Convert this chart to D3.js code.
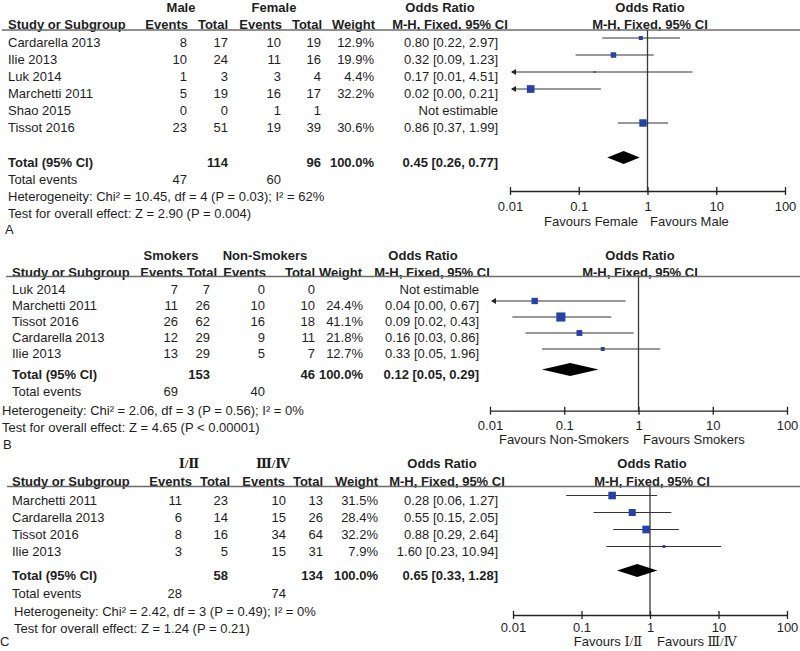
<!DOCTYPE html>
<html>
<head>
<meta charset="utf-8">
<script src="https://cdn.jsdelivr.net/npm/d3@7"></script>
<style>
body { margin: 0; background: #fff; }
svg text { font-family: Arial, "Liberation Sans", Helvetica, sans-serif; font-size: 13px; fill: #1e1e1e; }
svg text.b { font-weight: bold; }
svg tspan.roman { font-family: "Liberation Serif", "DejaVu Serif", serif; }
</style>
</head>
<body>
<svg id="chart" width="800" height="651"></svg>
<script>
// ticks of the odds ratio axis
const tickValues = [0.01, 0.1, 1, 10, 100];
const tickLabels = ["0.01", "0.1", "1", "10", "100"];
const headNames = ["Events", "Total", "Events", "Total", "Weight"];

// A - Male vs Female
const groupsA = ["Male", "Female"];
const favoursA = ["Favours Female", "Favours Male"];
const studiesA = ["Cardarella 2013", "Ilie 2013", "Luk 2014", "Marchetti 2011", "Shao 2015", "Tissot 2016"];
const eventsA1 = [8, 10, 1, 5, 0, 23];
const totalA1 = [17, 24, 3, 19, 0, 51];
const eventsA2 = [10, 11, 3, 16, 1, 19];
const totalA2 = [19, 16, 4, 17, 1, 39];
const weightA = [12.9, 19.9, 4.4, 32.2, null, 30.6];
const orA = [0.80, 0.32, 0.17, 0.02, null, 0.86];
const lowA = [0.22, 0.09, 0.01, 0.00, null, 0.37];
const highA = [2.97, 1.23, 4.51, 0.21, null, 1.99];
const sumEventsA = [47, 60];
const sumTotalA = [114, 96];
const pooledA = [0.45, 0.26, 0.77];
const statsA = ["Heterogeneity: Chi² = 10.45, df = 4 (P = 0.03); I² = 62%", "Test for overall effect: Z = 2.90 (P = 0.004)"];

// B - Smokers vs Non-Smokers
const groupsB = ["Smokers", "Non-Smokers"];
const favoursB = ["Favours Non-Smokers", "Favours Smokers"];
const studiesB = ["Luk 2014", "Marchetti 2011", "Tissot 2016", "Cardarella 2013", "Ilie 2013"];
const eventsB1 = [7, 11, 26, 12, 13];
const totalB1 = [7, 26, 62, 29, 29];
const eventsB2 = [0, 10, 16, 9, 5];
const totalB2 = [0, 10, 18, 11, 7];
const weightB = [null, 24.4, 41.1, 21.8, 12.7];
const orB = [null, 0.04, 0.09, 0.16, 0.33];
const lowB = [null, 0.00, 0.02, 0.03, 0.05];
const highB = [null, 0.67, 0.43, 0.86, 1.96];
const sumEventsB = [69, 40];
const sumTotalB = [153, 46];
const pooledB = [0.12, 0.05, 0.29];
const statsB = ["Heterogeneity: Chi² = 2.06, df = 3 (P = 0.56); I² = 0%", "Test for overall effect: Z = 4.65 (P < 0.00001)"];

// C - stage I/II vs III/IV
const groupsC = ["Ⅰ/Ⅱ", "Ⅲ/Ⅳ"];
const favoursC = ["Favours Ⅰ/Ⅱ", "Favours Ⅲ/Ⅳ"];
const studiesC = ["Marchetti 2011", "Cardarella 2013", "Tissot 2016", "Ilie 2013"];
const eventsC1 = [11, 6, 8, 3];
const totalC1 = [23, 14, 16, 5];
const eventsC2 = [10, 15, 34, 15];
const totalC2 = [13, 26, 64, 31];
const weightC = [31.5, 28.4, 32.2, 7.9];
const orC = [0.28, 0.55, 0.88, 1.60];
const lowC = [0.06, 0.15, 0.29, 0.23];
const highC = [1.27, 2.05, 2.64, 10.94];
const sumEventsC = [28, 74];
const sumTotalC = [58, 134];
const pooledC = [0.65, 0.33, 1.28];
const statsC = ["Heterogeneity: Chi² = 2.42, df = 3 (P = 0.49); I² = 0%", "Test for overall effect: Z = 1.24 (P = 0.21)"];

const panels = [
    {
        letter: "A", groups: groupsA, favours: favoursA, studies: studiesA,
        e1: eventsA1, t1: totalA1, e2: eventsA2, t2: totalA2, w: weightA, or: orA, lo: lowA, hi: highA,
        sumE: sumEventsA, sumT: sumTotalA, pooled: pooledA, stats: statsA,
        groupY: 7, headY: 24, lineY: 30, lineX: 2, rowY: 42.5, rowStep: 17,
        totalY: 162, eventsY: 179, hetY: 196.5, testY: 213.5, letterY: 229, letterX: 5,
        studyX: 8, statX: 8, cols: [187, 228, 281, 321, 374], headCols: [188, 228, 282, 322, 375],
        orX: 498, orHead: [440, 450], groupX: [181, 274],
        plotX: [510, 785], axisY: 191, tickY: 15, favY: 221, favX: [638, 650], plotHead: 650
    },
    {
        letter: "B", groups: groupsB, favours: favoursB, studies: studiesB,
        e1: eventsB1, t1: totalB1, e2: eventsB2, t2: totalB2, w: weightB, or: orB, lo: lowB, hi: highB,
        sumE: sumEventsB, sumT: sumTotalB, pooled: pooledB, stats: statsB,
        groupY: 255.7, headY: 272, lineY: 276.5, lineX: 6, rowY: 289.5, rowStep: 16,
        totalY: 374, eventsY: 391.5, hetY: 410, testY: 427.5, letterY: 444, letterX: 3,
        studyX: 12, statX: 2, cols: [178, 210, 265, 315, 363], headCols: [183, 217, 266, 315, 362],
        orX: 479, orHead: [423, 432], groupX: [171, 265],
        plotX: [490, 787], axisY: 410.7, tickY: 14.5, favY: 439.5, favX: [629, 643], plotHead: 640
    },
    {
        letter: "C", groups: groupsC, favours: favoursC, studies: studiesC,
        e1: eventsC1, t1: totalC1, e2: eventsC2, t2: totalC2, w: weightC, or: orC, lo: lowC, hi: highC,
        sumE: sumEventsC, sumT: sumTotalC, pooled: pooledC, stats: statsC,
        groupY: 463, headY: 481.5, lineY: 486.5, lineX: 7, rowY: 500, rowStep: 17,
        totalY: 575, eventsY: 593, hetY: 611, testY: 628, letterY: 641, letterX: 0,
        studyX: 12, statX: 14, cols: [182, 228, 286, 323, 378], headCols: [192, 230, 285, 323, 378],
        orX: 498, orHead: [442, 447], groupX: [189, 273],
        plotX: [513, 787], axisY: 615, tickY: 12.3, favY: 641.5, favX: [642, 657], plotHead: 652
    }
];

const svg = d3.select("#chart");
svg.append("rect").attr("width", 800).attr("height", 651).attr("fill", "#fff");

// square side from study weight
const sizeScale = d3.scalePow().exponent(0.7).domain([0, 100]).range([0, 17]);
const markerColor = "#2742a6";

const fmtOR = (o, l, h) => `${o.toFixed(2)} [${l.toFixed(2)}, ${h.toFixed(2)}]`;

// text with roman numerals put in a serif font
const addText = (g, x, y, s, anchor, bold) => {
    const t = g.append("text")
        .attr("x", x)
        .attr("y", y)
        .attr("dy", "0.35em")
        .attr("text-anchor", anchor || "start");
    if (bold) t.classed("b", true);
    String(s).split(/([\u2160-\u216F]+(?:\/[\u2160-\u216F]+)*)/).forEach(part => {
        if (!part) return;
        const ts = t.append("tspan").text(part);
        if (/[\u2160-\u216F]/.test(part)) ts.classed("roman", true);
    });
    return t;
}

const drawPanel = (p) => {
    const g = svg.append("g");
    const xMin = tickValues[0], xMax = tickValues[tickValues.length - 1];
    const x = d3.scaleLog().domain([xMin, xMax]).range(p.plotX);

    // headers
    addText(g, p.groupX[0], p.groupY, p.groups[0], "middle", true);
    addText(g, p.groupX[1], p.groupY, p.groups[1], "middle", true);
    addText(g, p.orHead[0], p.groupY, "Odds Ratio", "middle", true);
    addText(g, p.plotHead, p.groupY, "Odds Ratio", "middle", true);
    addText(g, p.studyX, p.headY, "Study or Subgroup", "start", true);
    headNames.forEach((h, i) => addText(g, p.headCols[i], p.headY, h, "end", true));
    addText(g, p.orHead[1], p.headY, "M-H, Fixed, 95% CI", "middle", true);
    addText(g, p.plotHead, p.headY, "M-H, Fixed, 95% CI", "middle", true);

    g.append("line")
        .attr("x1", p.lineX).attr("x2", 800)
        .attr("y1", p.lineY).attr("y2", p.lineY)
        .attr("stroke", "#6b6b6b")
        .attr("stroke-width", 1.6);

    // line of no effect
    g.append("line")
        .attr("x1", x(1)).attr("x2", x(1))
        .attr("y1", p.lineY).attr("y2", p.axisY)
        .attr("stroke", "#3a3a3a")
        .attr("stroke-width", 1.3);

    // study rows
    p.studies.forEach((s, i) => {
        const y = p.rowY + i * p.rowStep;
        addText(g, p.studyX, y, s);
        [p.e1[i], p.t1[i], p.e2[i], p.t2[i]].forEach((v, j) => addText(g, p.cols[j], y, v, "end"));
        if (p.w[i] != null) addText(g, p.cols[4], y, p.w[i].toFixed(1) + "%", "end");
        if (p.or[i] == null) {
            addText(g, p.orX, y, "Not estimable", "end");
            return;
        }
        addText(g, p.orX, y, fmtOR(p.or[i], p.lo[i], p.hi[i]), "end");

        const my = y - 4.5;
        const clipLo = p.lo[i] <= xMin;
        const clipHi = p.hi[i] >= xMax;
        const xa = clipLo ? x(xMin) + 2 : x(p.lo[i]);
        const xb = clipHi ? x(xMax) - 2 : x(p.hi[i]);
        g.append("line")
            .attr("x1", xa).attr("x2", xb)
            .attr("y1", my).attr("y2", my)
            .attr("stroke", "#333")
            .attr("stroke-width", 1.1);
        if (clipLo) {
            const tip = x(xMin) + 1;
            g.append("path")
                .attr("d", `M${tip},${my}L${tip + 5},${my - 3}L${tip + 5},${my + 3}Z`)
                .attr("fill", "#222");
        }
        if (clipHi) {
            const tip = x(xMax) - 1;
            g.append("path")
                .attr("d", `M${tip},${my}L${tip - 5},${my - 3}L${tip - 5},${my + 3}Z`)
                .attr("fill", "#222");
        }
        const sz = sizeScale(p.w[i]);
        g.append("rect")
            .attr("x", x(p.or[i]) - sz / 2)
            .attr("y", my - sz / 2)
            .attr("width", sz)
            .attr("height", sz)
            .attr("fill", markerColor);
    });

    // total
    addText(g, p.studyX, p.totalY, "Total (95% CI)", "start", true);
    addText(g, p.cols[1], p.totalY, p.sumT[0], "end", true);
    addText(g, p.cols[3], p.totalY, p.sumT[1], "end", true);
    addText(g, p.cols[4], p.totalY, "100.0%", "end", true);
    addText(g, p.orX, p.totalY, fmtOR(p.pooled[0], p.pooled[1], p.pooled[2]), "end", true);
    const dy = p.totalY - 4.5;
    g.append("path")
        .attr("d", `M${x(p.pooled[1])},${dy}L${x(p.pooled[0])},${dy - 6.5}L${x(p.pooled[2])},${dy}L${x(p.pooled[0])},${dy + 6.5}Z`)
        .attr("fill", "#000");

    addText(g, p.studyX, p.eventsY, "Total events");
    addText(g, p.cols[0], p.eventsY, p.sumE[0], "end");
    addText(g, p.cols[2], p.eventsY, p.sumE[1], "end");
    addText(g, p.statX, p.hetY, p.stats[0]);
    addText(g, p.statX, p.testY, p.stats[1]);
    addText(g, p.letterX, p.letterY, p.letter);

    // axis
    const ax = g.append("g")
        .attr("transform", `translate(0,${p.axisY})`)
        .call(d3.axisBottom(x)
            .tickValues(tickValues)
            .tickFormat((d, i) => tickLabels[i])
            .tickSize(4)
            .tickSizeOuter(0));
    ax.attr("font-size", null).attr("font-family", null);
    ax.select(".domain").attr("stroke", "#222").attr("stroke-width", 1.3);
    ax.selectAll(".tick line")
        .attr("y1", -4).attr("y2", 4)
        .attr("stroke", "#222")
        .attr("stroke-width", 1.3);
    ax.selectAll(".tick text")
        .attr("y", p.tickY)
        .attr("dy", "0.35em");

    addText(g, p.favX[0], p.favY, p.favours[0], "end");
    addText(g, p.favX[1], p.favY, p.favours[1], "start");
}

panels.forEach(drawPanel);
</script>
</body>
</html>
